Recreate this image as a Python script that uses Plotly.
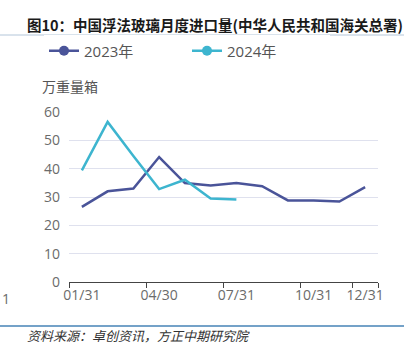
import plotly.graph_objects as go

months = ["01/31", "02/28", "03/31", "04/30", "05/31", "06/30",
          "07/31", "08/31", "09/30", "10/31", "11/30", "12/31"]
tick_labels = ["01/31", "04/30", "07/31", "10/31", "12/31"]
y2023 = [26.5, 32.0, 33.0, 44.1, 34.9, 34.1, 34.9, 33.8, 28.8, 28.8, 28.4, 33.5]
y2024 = [39.4, 56.5, 44.5, 32.8, 36.1, 29.5, 29.1]
y_ticks = [0, 10, 20, 30, 40, 50, 60]

c23 = "#4a5499"
c24 = "#3db5cf"
FONT = "Open Sans, Noto Sans CJK SC, sans-serif"
CJK = "Noto Sans CJK SC, sans-serif"

fig = go.Figure()
fig.add_trace(go.Scatter(x=months, y=y2023, mode="lines", line=dict(color=c23, width=2.5),
                         showlegend=False, legendgroup="a", hoverinfo="skip"))
fig.add_trace(go.Scatter(x=months[:len(y2024)], y=y2024, mode="lines", line=dict(color=c24, width=2.5),
                         showlegend=False, legendgroup="b", hoverinfo="skip"))
# legend entries (line + circle)
fig.add_trace(go.Scatter(x=[None], y=[None], mode="lines+markers", name="2023年",
                         line=dict(color=c23, width=2.5), marker=dict(size=10, color=c23), legendgroup="a"))
fig.add_trace(go.Scatter(x=[None], y=[None], mode="lines+markers", name="2024年",
                         line=dict(color=c24, width=2.5), marker=dict(size=10, color=c24), legendgroup="b"))

L, R, T, B = 69, 33, 112, 74
W, H = 411, 356
pw, ph = W - L - R, H - T - B

def px(xp):
    return (xp - L) / pw

def py(yp):
    return (H - B - yp) / ph

fig.update_layout(
    width=W, height=H,
    margin=dict(l=L, r=R, t=T, b=B),
    paper_bgcolor="white", plot_bgcolor="white",
    font=dict(family=FONT, size=14, color="#6b6b6b"),
    showlegend=True,
    legend=dict(orientation="h", x=px(44), y=py(51), xanchor="left", yanchor="middle",
                font=dict(family=FONT, size=15, color="#555555"),
                entrywidth=98, entrywidthmode="pixels", itemclick=False),
    xaxis=dict(type="category", categoryorder="array", categoryarray=months,
               range=[-0.5, 11.5], tickmode="array", tickvals=tick_labels, ticktext=tick_labels,
               tickson="boundaries", ticks="outside", ticklen=5, tickcolor="#444444",
               tickangle=0,
               showline=True, linecolor="#444444", linewidth=1, showgrid=False,
               tickfont=dict(family=FONT, size=14, color="#6b6b6b")),
    yaxis=dict(range=[0, 60], tickmode="array", tickvals=y_ticks, showgrid=True,
               gridcolor="#dfe1ee", gridwidth=1, zeroline=False, showline=False,
               ticks="", ticklabelstandoff=8,
               tickfont=dict(family=FONT, size=14, color="#6b6b6b")),
    annotations=[
        dict(text="图10：中国浮法玻璃月度进口量(中华人民共和国海关总署)", xref="paper", yref="paper",
             x=px(25), y=py(24), xanchor="left", yanchor="middle", showarrow=False,
             font=dict(family=CJK, size=14.5, color="#1a1a1a", weight="bold")),
        dict(text="万重量箱", xref="paper", yref="paper", x=px(40), y=py(86),
             xanchor="left", yanchor="middle", showarrow=False,
             font=dict(family=CJK, size=14, color="#555555")),
        dict(text="<i>资料来源：卓创资讯，方正中期研究院</i>", xref="paper", yref="paper",
             x=px(25), y=py(335), xanchor="left", yanchor="middle", showarrow=False,
             font=dict(family=CJK, size=13, color="#333333")),
        dict(text="1", xref="paper", yref="paper", x=px(0), y=py(298),
             xanchor="left", yanchor="middle", showarrow=False,
             font=dict(family=FONT, size=14, color="#6b6b6b")),
    ],
    shapes=[
        dict(type="line", xref="paper", yref="paper", x0=px(0), x1=px(404), y0=py(35), y1=py(35),
             line=dict(color="#b3c6d9", width=1)),
        dict(type="line", xref="paper", yref="paper", x0=px(0), x1=px(404), y0=py(326), y1=py(326),
             line=dict(color="#4683b6", width=1.5)),
    ],
)

fig.write_html("out.html", config={"displayModeBar": False},
               post_script="document.body.style.margin='0px';")
